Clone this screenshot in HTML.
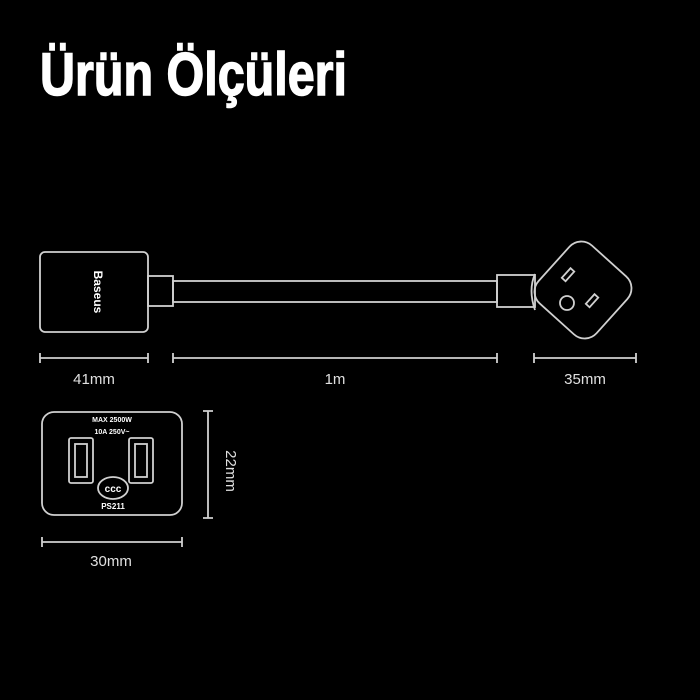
<!DOCTYPE html>
<html><head><meta charset="utf-8"><style>
html,body{margin:0;padding:0;background:#000;}
svg{display:block}
</style></head><body>
<svg width="700" height="700" viewBox="0 0 700 700" xmlns="http://www.w3.org/2000/svg" font-family="Liberation Sans, sans-serif">
<rect width="700" height="700" fill="#000"/>
<text x="40" y="95" font-size="60" font-weight="bold" fill="#fff" stroke="#fff" stroke-width="1.5" textLength="307" lengthAdjust="spacingAndGlyphs">Ürün Ölçüleri</text>
<g fill="none" stroke="#d0d0d0" stroke-width="1.8">
<rect x="40" y="252" width="108" height="80" rx="5"/>
<rect x="148" y="276" width="25" height="30"/>
<rect x="173" y="281" width="324" height="21"/>
<rect x="497" y="275" width="38" height="32"/>
<path d="M535 274 Q528 290 535 310"/>
<rect x="544" y="251" width="78" height="78" rx="16" transform="rotate(42 583 290)"/>
<rect x="566" y="268" width="5" height="13" transform="rotate(42 568 274)"/>
<rect x="590" y="294" width="5" height="13" transform="rotate(42 592 300)"/>
<circle cx="567" cy="303" r="7"/>
<path d="M40 358H148M40 353V363M148 353V363"/>
<path d="M173 358H497M173 353V363M497 353V363"/>
<path d="M534 358H636M534 353V363M636 353V363"/>
<rect x="42" y="412" width="140" height="103" rx="12"/>
<rect x="69" y="438" width="24" height="45" rx="2"/>
<rect x="75" y="444" width="12" height="33"/>
<rect x="129" y="438" width="24" height="45" rx="2"/>
<rect x="135" y="444" width="12" height="33"/>
<ellipse cx="113" cy="488" rx="15" ry="11"/>
<path d="M208 411V518M203 411H213M203 518H213"/>
<path d="M42 542H182M42 537V547M182 537V547"/>
</g>
<text x="94" y="292" font-size="12" font-weight="bold" fill="#fff" text-anchor="middle" transform="rotate(90 94 292)">Baseus</text>
<text x="113" y="492" font-size="10" font-weight="bold" fill="#fff" text-anchor="middle">ccc</text>
<text x="112" y="422" font-size="7" font-weight="bold" fill="#fff" text-anchor="middle">MAX 2500W</text>
<text x="112" y="434" font-size="7" font-weight="bold" fill="#fff" text-anchor="middle">10A  250V~</text>
<text x="113" y="509" font-size="8" font-weight="bold" fill="#fff" text-anchor="middle">PS211</text>
<g fill="#e0e0e0" font-size="15" text-anchor="middle">
<text x="94" y="384">41mm</text>
<text x="335" y="384">1m</text>
<text x="585" y="384">35mm</text>
<text x="111" y="566">30mm</text>
<text x="232" y="465" transform="rotate(90 226 465)">22mm</text>
</g>
</svg>
</body></html>
